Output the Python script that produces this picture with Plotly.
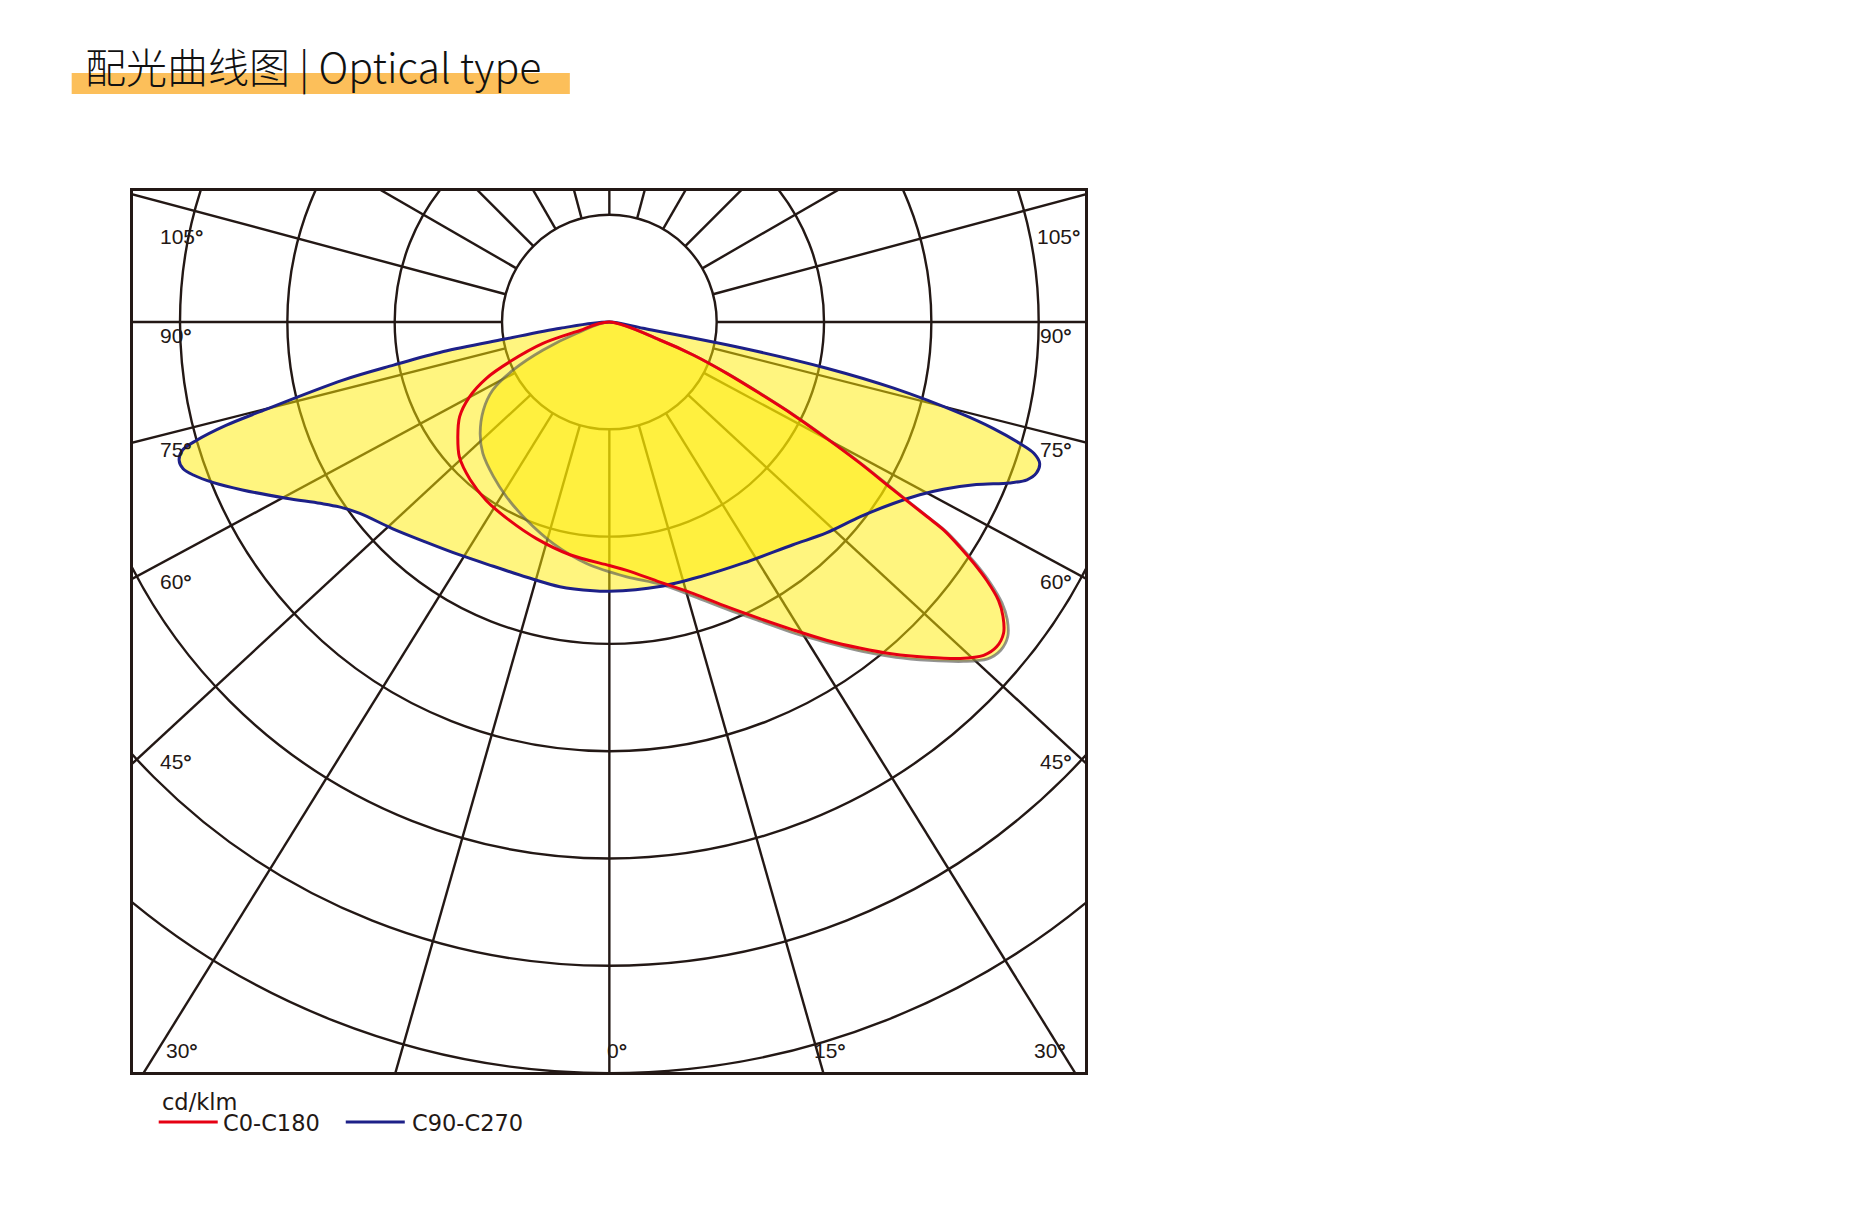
import numpy as np
import plotly.graph_objects as go

# ---------------- data ----------------
RING_STEP = 100            # cd/klm per grid ring
RINGS = [1, 2, 3, 4, 5, 6, 7]
SPOKE_ANGLES = [0, 15.9, 31.8, 47.2, 61.7, 75.8, 90, 105, 120, 135, 150, 165, 180]

# C90-C270 plane (negative gamma = C270 side, left)
C90_GAMMA = [-90, -82.7, -80.7, -79.9, -78.7, -77.7, -75.6, -74.9, -74.0, -73.3, -72.2,
             -71.0, -69.8, -67.9, -65.4, -61.4, -57.9, -55.6, -52.5, -46.3, -39.8, -32.7, -25.4,
             -17.9, -10.6, -3.4, 0, 10.8, 19.6, 29.0, 39.5, 45.8, 52.2, 57.4, 60.9, 63.4, 66.1,
             68.1, 69.3, 70.5, 71.8, 72.8, 73.5, 74.5, 75.4, 76.9, 78.0, 78.9, 79.4, 90]
C90_I = [0, 46, 100, 157, 205, 254, 336, 370, 400, 415, 421,
         420, 413, 398, 376, 343, 318, 305, 293, 279, 267, 258, 252,
         250, 251, 251, 251, 251, 252, 257, 269, 282, 296, 314, 331, 348, 374,
         402, 416, 422, 422, 414, 399, 371, 338, 272, 207, 127, 32, 0]

# C0-C180 plane (negative gamma = C180 side, left)
C0_GAMMA = [-90, -73.6, -72.1, -68.2, -65.4, -61.8, -57.7, -52.9, -48.0, -41.4, -34.6, -26.7,
            -18.6, -9.6, 0, 4.0, 11.0, 17.2, 22.4, 26.9, 30.8, 34.3, 37.5, 40.5, 43.4, 46.2,
            48.3, 50.0, 51.7, 53.2, 54.4, 55.6, 56.5, 57.3, 58.1, 58.5, 59.4, 60.6, 61.8, 63.2,
            64.6, 66.4, 68.5, 70.4, 90]
C0_I = [0, 32, 65, 100, 126, 148, 165, 177, 188, 196, 202, 207,
        213, 220, 227, 232, 247, 265, 287, 310, 334, 359, 383, 407, 430, 453,
        467, 471, 468, 458, 446, 426, 407, 388, 367, 347, 307, 268, 230, 192,
        155, 119, 84, 50, 0]

# grey outline (filled asymmetric distribution)
GREY_GAMMA = [-90, -70.9, -67.1, -63.5, -59.7, -55.1, -49.2, -43.9, -36.9, -30.5, -22.7, -14.2,
              -5.4, 3.9, 11.0, 17.2, 22.4, 26.9, 30.8, 34.3, 37.5, 40.5, 43.4, 46.2, 48.3, 50.0,
              51.7, 53.2, 54.4, 55.6, 56.5, 57.3, 58.1, 58.5, 59.4, 60.6, 61.8, 63.2, 64.6, 66.4,
              68.5, 70.4, 90]
GREY_I = [0, 32, 67, 100, 126, 143, 159, 170, 180, 189, 200, 213,
          226, 238, 249, 268, 290, 313, 338, 362, 387, 411, 434, 457, 472, 476,
          473, 463, 450, 430, 411, 391, 370, 350, 310, 271, 232, 194, 157, 120,
          85, 51, 0]

LEFT_LABELS = ["105°", "90°", "75°", "60°", "45°"]
RIGHT_LABELS = ["105°", "90°", "75°", "60°", "45°"]
BOTTOM_LABELS = ["30°", "0°", "15°", "30°"]
LEGEND_NAMES = ["C0-C180", "C90-C270"]
UNIT_LABEL = "cd/klm"
TITLE = "配光曲线图 | Optical type"

# ---------------- styling / geometry ----------------
GRID = "#231815"
BLUE = "#1d2088"
RED = "#e60012"
GREYC = "rgba(90,90,90,0.65)"
FILL = "rgba(255,236,0,0.5)"
OFF = 8                          # page body margin
W, H = 1870 - OFF, 1226 - OFF
PL, PR, PT, PB = 133.3, 1085.0, 191.0, 1072.0   # target pixel box in the screenshot
CX, CY, U = 609.5, 322.0, 107.3


def px(X):
    return (X - PL) / (PR - PL)


def py(Y):
    return (PB - Y) / (PB - PT)


def to_xy(g, I):
    g = np.radians(np.asarray(g, float))
    r = np.asarray(I, float) / RING_STEP
    return r * np.sin(g), -r * np.cos(g)


def deg(t):
    return t.replace("°", "<b>°</b>")


fig = go.Figure()

GW = 2.4
shapes = []
for k in RINGS:
    shapes.append(dict(type="circle", xref="x", yref="y", x0=-k, x1=k, y0=-k, y1=k,
                       line=dict(color=GRID, width=GW), layer="below"))
for a in SPOKE_ANGLES:
    signs = [1] if a in (0, 180) else [1, -1]
    for s in signs:
        t = np.radians(a)
        shapes.append(dict(type="line", xref="x", yref="y",
                           x0=s * 1 * np.sin(t), y0=-1 * np.cos(t),
                           x1=s * 12 * np.sin(t), y1=-12 * np.cos(t),
                           line=dict(color=GRID, width=GW), layer="below"))

# title bar
shapes.append(dict(type="rect", xref="paper", yref="paper",
                   x0=px(72), x1=px(570), y0=py(94), y1=py(73),
                   fillcolor="#fcbf5a", line=dict(width=0), layer="below"))
# legend samples
shapes.append(dict(type="line", xref="paper", yref="paper", x0=px(159), x1=px(218),
                   y0=py(1122), y1=py(1122), line=dict(color=RED, width=2.8)))
shapes.append(dict(type="line", xref="paper", yref="paper", x0=px(346), x1=px(405),
                   y0=py(1122), y1=py(1122), line=dict(color=BLUE, width=2.8)))

bx, by = to_xy(C90_GAMMA, C90_I)
gx, gy = to_xy(GREY_GAMMA, GREY_I)
rx, ry = to_xy(C0_GAMMA, C0_I)

SM = 0.9
fig.add_trace(go.Scatter(x=bx, y=by, mode="lines", fill="toself", fillcolor=FILL,
                         line=dict(width=0, shape="spline", smoothing=SM),
                         hoverinfo="skip", showlegend=False))
fig.add_trace(go.Scatter(x=gx, y=gy, mode="lines", fill="toself", fillcolor=FILL,
                         line=dict(width=0, shape="spline", smoothing=SM),
                         hoverinfo="skip", showlegend=False))
fig.add_trace(go.Scatter(x=gx, y=gy, mode="lines",
                         line=dict(color=GREYC, width=2.8, shape="spline", smoothing=SM),
                         hoverinfo="skip", showlegend=False))
fig.add_trace(go.Scatter(x=bx, y=by, mode="lines", name=LEGEND_NAMES[1],
                         line=dict(color=BLUE, width=3, shape="spline", smoothing=SM),
                         showlegend=False))
fig.add_trace(go.Scatter(x=rx, y=ry, mode="lines", name=LEGEND_NAMES[0],
                         line=dict(color=RED, width=3, shape="spline", smoothing=SM),
                         showlegend=False))

ann = []
LBL_FONT = dict(family="Liberation Sans, Arial, sans-serif", size=21, color=GRID)
left_y = [236, 335, 449, 581, 761]
for t, yy in zip(LEFT_LABELS, left_y):
    ann.append(dict(xref="paper", yref="paper", x=px(158), y=py(yy), text=deg(t), showarrow=False,
                    xanchor="left", yanchor="middle", font=LBL_FONT))
right_pos = [(1082, 236), (1074, 335), (1074, 449), (1074, 581), (1074, 761)]
for t, (xx, yy) in zip(RIGHT_LABELS, right_pos):
    ann.append(dict(xref="paper", yref="paper", x=px(xx), y=py(yy), text=deg(t), showarrow=False,
                    xanchor="right", yanchor="middle", font=LBL_FONT))
bottom_x = [164, 605, 812, 1032]
for t, xx in zip(BOTTOM_LABELS, bottom_x):
    ann.append(dict(xref="paper", yref="paper", x=px(xx), y=py(1050), text=deg(t), showarrow=False,
                    xanchor="left", yanchor="middle", font=LBL_FONT))

LEG_FONT = dict(family="DejaVu Sans, Liberation Sans, sans-serif", size=22.5, color=GRID)
ann.append(dict(xref="paper", yref="paper", x=px(160), y=py(1102), text=UNIT_LABEL,
                showarrow=False, xanchor="left", yanchor="middle", font=LEG_FONT))
ann.append(dict(xref="paper", yref="paper", x=px(221), y=py(1123), text=LEGEND_NAMES[0],
                showarrow=False, xanchor="left", yanchor="middle", font=LEG_FONT))
ann.append(dict(xref="paper", yref="paper", x=px(410), y=py(1123), text=LEGEND_NAMES[1],
                showarrow=False, xanchor="left", yanchor="middle", font=LEG_FONT))

ann.append(dict(xref="paper", yref="paper", x=px(83), y=py(65), text=TITLE,
                showarrow=False, xanchor="left", yanchor="middle",
                font=dict(family="Noto Sans CJK SC, Noto Sans, sans-serif", size=41,
                          color="#111111", weight=300)))

axis_common = dict(showgrid=False, zeroline=False, showticklabels=False, ticks="",
                   showline=True, mirror=True, linecolor=GRID, linewidth=3.4, fixedrange=True)
fig.update_layout(
    width=W, height=H, autosize=False,
    margin=dict(l=PL - OFF, r=W - (PR - OFF), t=PT - OFF, b=H - (PB - OFF), pad=0),
    paper_bgcolor="white", plot_bgcolor="white",
    xaxis=dict(range=[(PL - CX) / U, (PR - CX) / U], **axis_common),
    yaxis=dict(range=[-(PB - CY) / U, (CY - PT) / U], **axis_common),
    shapes=shapes, annotations=ann, showlegend=False,
)

fig.write_html("out.html")
